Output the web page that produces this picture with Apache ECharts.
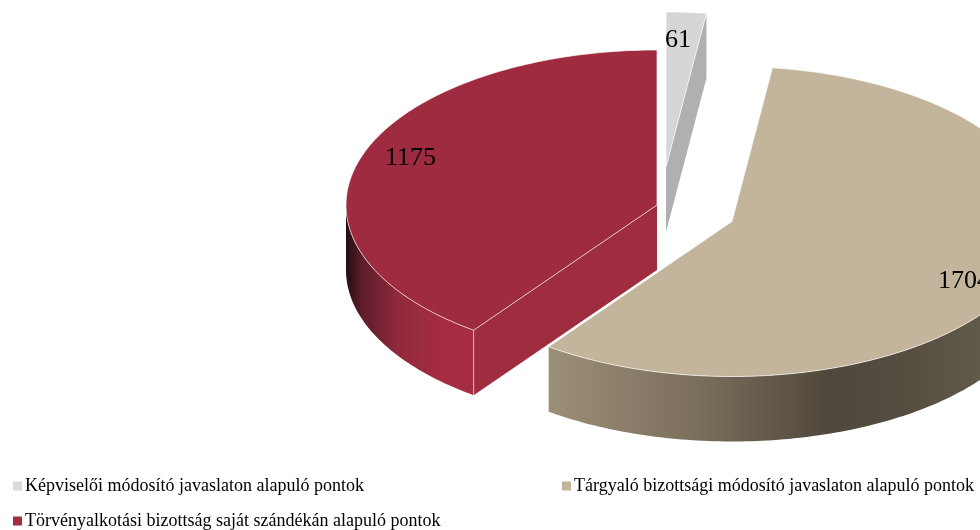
<!DOCTYPE html>
<html>
<head>
<meta charset="utf-8">
<style>
  html, body { margin: 0; padding: 0; background: #fff; overflow: hidden; }
  #main { width: 980px; height: 530px; }
</style>
<script src="https://cdn.jsdelivr.net/npm/echarts@6/dist/echarts.min.js"></script>
</head>
<body>
<div id="main"></div>
<script>
const categories = [
  'Képviselői módosító javaslaton alapuló pontok',
  'Tárgyaló bizottsági módosító javaslaton alapuló pontok',
  'Törvényalkotási bizottság saját szándékán alapuló pontok',
];
const values = [61, 1704, 1175];

const RX = 311;
const RY = 155;
const DEPTH = 65;
const FONT = '"Liberation Serif", serif';

// exploded centres and the look of each slice
const slices = [
  { cx: 666, cy: 167, top: '#d6d6d6', cut: '#b0b0b0', side: '#b0b0b0', label: [665, 40], legend: [13, 477] },
  {
    cx: 732, cy: 221.5, top: '#c3b59b', cut: '#9c8f78', label: [938, 281], legend: [562, 477],
    side: [[0, '#9c8f78'], [0.3, '#7a6f5c'], [0.57, '#4f473b'], [0.72, '#554d40'], [1, '#6b6453']],
  },
  {
    cx: 657, cy: 205, top: '#9e2b3f', cut: '#a02c3f', label: [385, 158], legend: [13, 512],
    side: [[0, '#240d12'], [0.12, '#5c1c29'], [0.4, '#8f293b'], [0.75, '#a62c41'], [1, '#a62c41']],
  },
];

const total = values.reduce((a, b) => a + b, 0);
const deg = (v) => (v / total) * 360;

function point(s, a, dz) {
  const r = (a * Math.PI) / 180;
  return [s.cx + RX * Math.sin(r), s.cy - RY * Math.cos(r) + dz];
}

function arc(s, a0, a1, dz) {
  const pts = [];
  const n = Math.max(2, Math.ceil(Math.abs(a1 - a0)));
  for (let i = 0; i <= n; i++) {
    pts.push(point(s, a0 + ((a1 - a0) * i) / n, dz));
  }
  return pts;
}

function cutFace(s, a) {
  return {
    type: 'polygon',
    shape: { points: [[s.cx, s.cy], point(s, a, 0), point(s, a, DEPTH), [s.cx, s.cy + DEPTH]] },
    style: { fill: s.cut },
  };
}

function renderSlice(index, api) {
  const s = slices[index];
  let start = 0;
  for (let i = 0; i < index; i++) start += deg(values[i]);
  const end = start + deg(api.value(0));
  const children = [];

  // outer wall, only the part turned towards the viewer
  const from = Math.max(start, 90);
  const to = Math.min(end, 270);
  if (to > from) {
    const fill = Array.isArray(s.side)
      ? { type: 'linear', x: 0, y: 0, x2: 1, y2: 0, colorStops: s.side.map(([offset, color]) => ({ offset, color })) }
      : s.side;
    children.push({
      type: 'polygon',
      shape: { points: arc(s, from, to, 0).concat(arc(s, to, from, DEPTH)) },
      style: { fill },
    });
  }
  if (Math.sin((start * Math.PI) / 180) < -0.01) children.push(cutFace(s, start));
  if (Math.sin((end * Math.PI) / 180) > 0.01) children.push(cutFace(s, end));

  // vertical edge where the wall meets the cut face
  if (start > 90 && start < 270 && index === 2) {
    children.push({
      type: 'line',
      shape: { x1: point(s, start, 0)[0], y1: point(s, start, 0)[1], x2: point(s, start, DEPTH)[0], y2: point(s, start, DEPTH)[1] },
      style: { stroke: 'rgba(255,255,255,0.55)', lineWidth: 1 },
    });
  }

  children.push({
    type: 'polygon',
    shape: { points: [[s.cx, s.cy]].concat(arc(s, start, end, 0)) },
    style: { fill: s.top, stroke: 'rgba(255,255,255,0.65)', lineWidth: 1, lineJoin: 'round' },
  });
  children.push({
    type: 'text',
    style: {
      x: s.label[0], y: s.label[1], text: String(api.value(0)),
      font: '26px ' + FONT, fill: '#000', verticalAlign: 'middle', align: 'left',
    },
  });
  return { type: 'group', children };
}

// order is back to front: grey, red, tan
const drawOrder = [0, 2, 1];

const chart = echarts.init(document.getElementById('main'), null, { renderer: 'canvas' });
chart.setOption({
  animation: false,
  backgroundColor: '#fff',
  legend: categories.map((name, i) => ({
    show: true,
    data: [name],
    left: slices[i].legend[0],
    top: slices[i].legend[1],
    padding: 0,
    icon: 'rect',
    itemWidth: 9,
    itemHeight: 9,
    selectedMode: false,
    textStyle: { fontFamily: FONT, fontSize: 18, color: '#000', padding: [0, 0, 0, -2] },
  })),
  series: drawOrder.map((i) => ({
    type: 'custom',
    name: categories[i],
    coordinateSystem: 'none',
    silent: true,
    itemStyle: { color: i === 2 ? '#a52c41' : i === 1 ? '#c3b59b' : '#d9d9d9' },
    data: [values[i]],
    renderItem: (params, api) => renderSlice(i, api),
  })),
});
</script>
</body>
</html>
